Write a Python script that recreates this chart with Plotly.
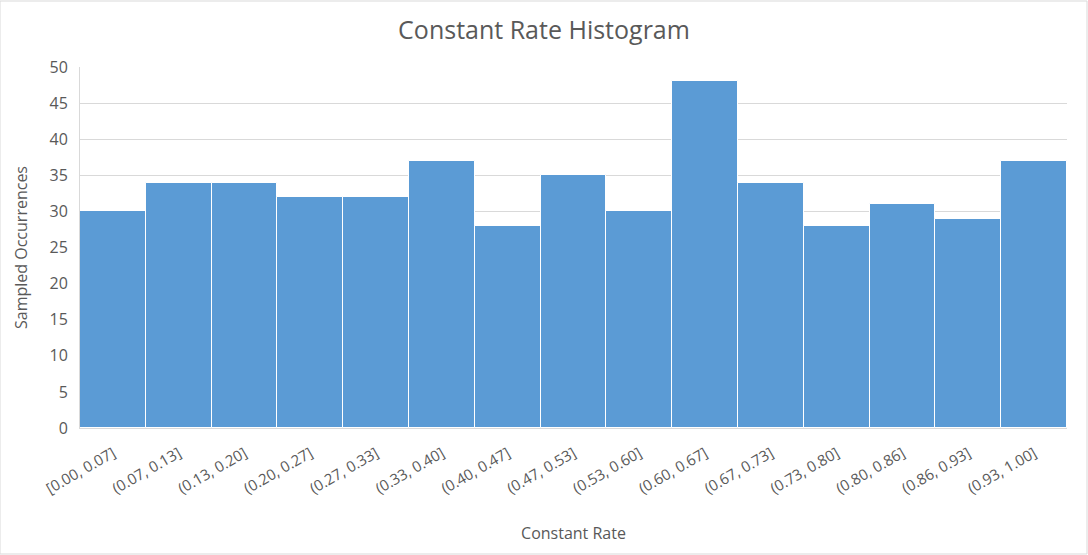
import plotly.graph_objects as go

bins = ["[0.00, 0.07]", "(0.07, 0.13]", "(0.13, 0.20]", "(0.20, 0.27]", "(0.27, 0.33]",
        "(0.33, 0.40]", "(0.40, 0.47]", "(0.47, 0.53]", "(0.53, 0.60]", "(0.60, 0.67]",
        "(0.67, 0.73]", "(0.73, 0.80]", "(0.80, 0.86]", "(0.86, 0.93]", "(0.93, 1.00]"]
counts = [30, 34, 34, 32, 32, 37, 28, 35, 30, 48, 34, 28, 31, 29, 37]

FONT = "Open Sans"
GREY = "#595959"

fig = go.Figure(go.Bar(
    x=bins, y=counts,
    marker=dict(color="#5B9BD5", line=dict(color="white", width=1)),
    hoverinfo="x+y",
))

fig.update_layout(
    width=1088, height=555,
    margin=dict(l=80, r=21, t=67, b=127),
    paper_bgcolor="white", plot_bgcolor="white",
    bargap=0,
    showlegend=False,
    font=dict(family=FONT, color=GREY, size=14),
    title=dict(text="Constant Rate Histogram", x=0.5, xanchor="center",
               y=0.945, yanchor="middle",
               font=dict(family=FONT, size=25, color=GREY)),
    xaxis=dict(
        tickangle=-30, tickfont=dict(size=15, color=GREY),
        ticklabelstandoff=10,
        showline=True, linecolor="#D9D9D9", linewidth=1,
        showgrid=False, ticks="",
        title=dict(text="Constant Rate", font=dict(size=16, color=GREY), standoff=30),
    ),
    yaxis=dict(
        range=[0, 50], dtick=5,
        showgrid=True, gridcolor="#D9D9D9", gridwidth=1,
        showline=True, linecolor="#D9D9D9", linewidth=1,
        zeroline=False, ticks="",
        ticklabelstandoff=8,
        tickfont=dict(size=16, color=GREY),
        title=dict(text="Sampled Occurrences", font=dict(size=16, color=GREY), standoff=17),
    ),
    shapes=[dict(type="rect", xref="paper", yref="paper", x0=-80/987, x1=1+20/987,
                 y0=-126/361, y1=1+66/361, line=dict(color="#D9D9D9", width=1))],
)

fig.write_html("out.html", config={"displayModeBar": False},
               post_script="document.body.style.margin='0';")
